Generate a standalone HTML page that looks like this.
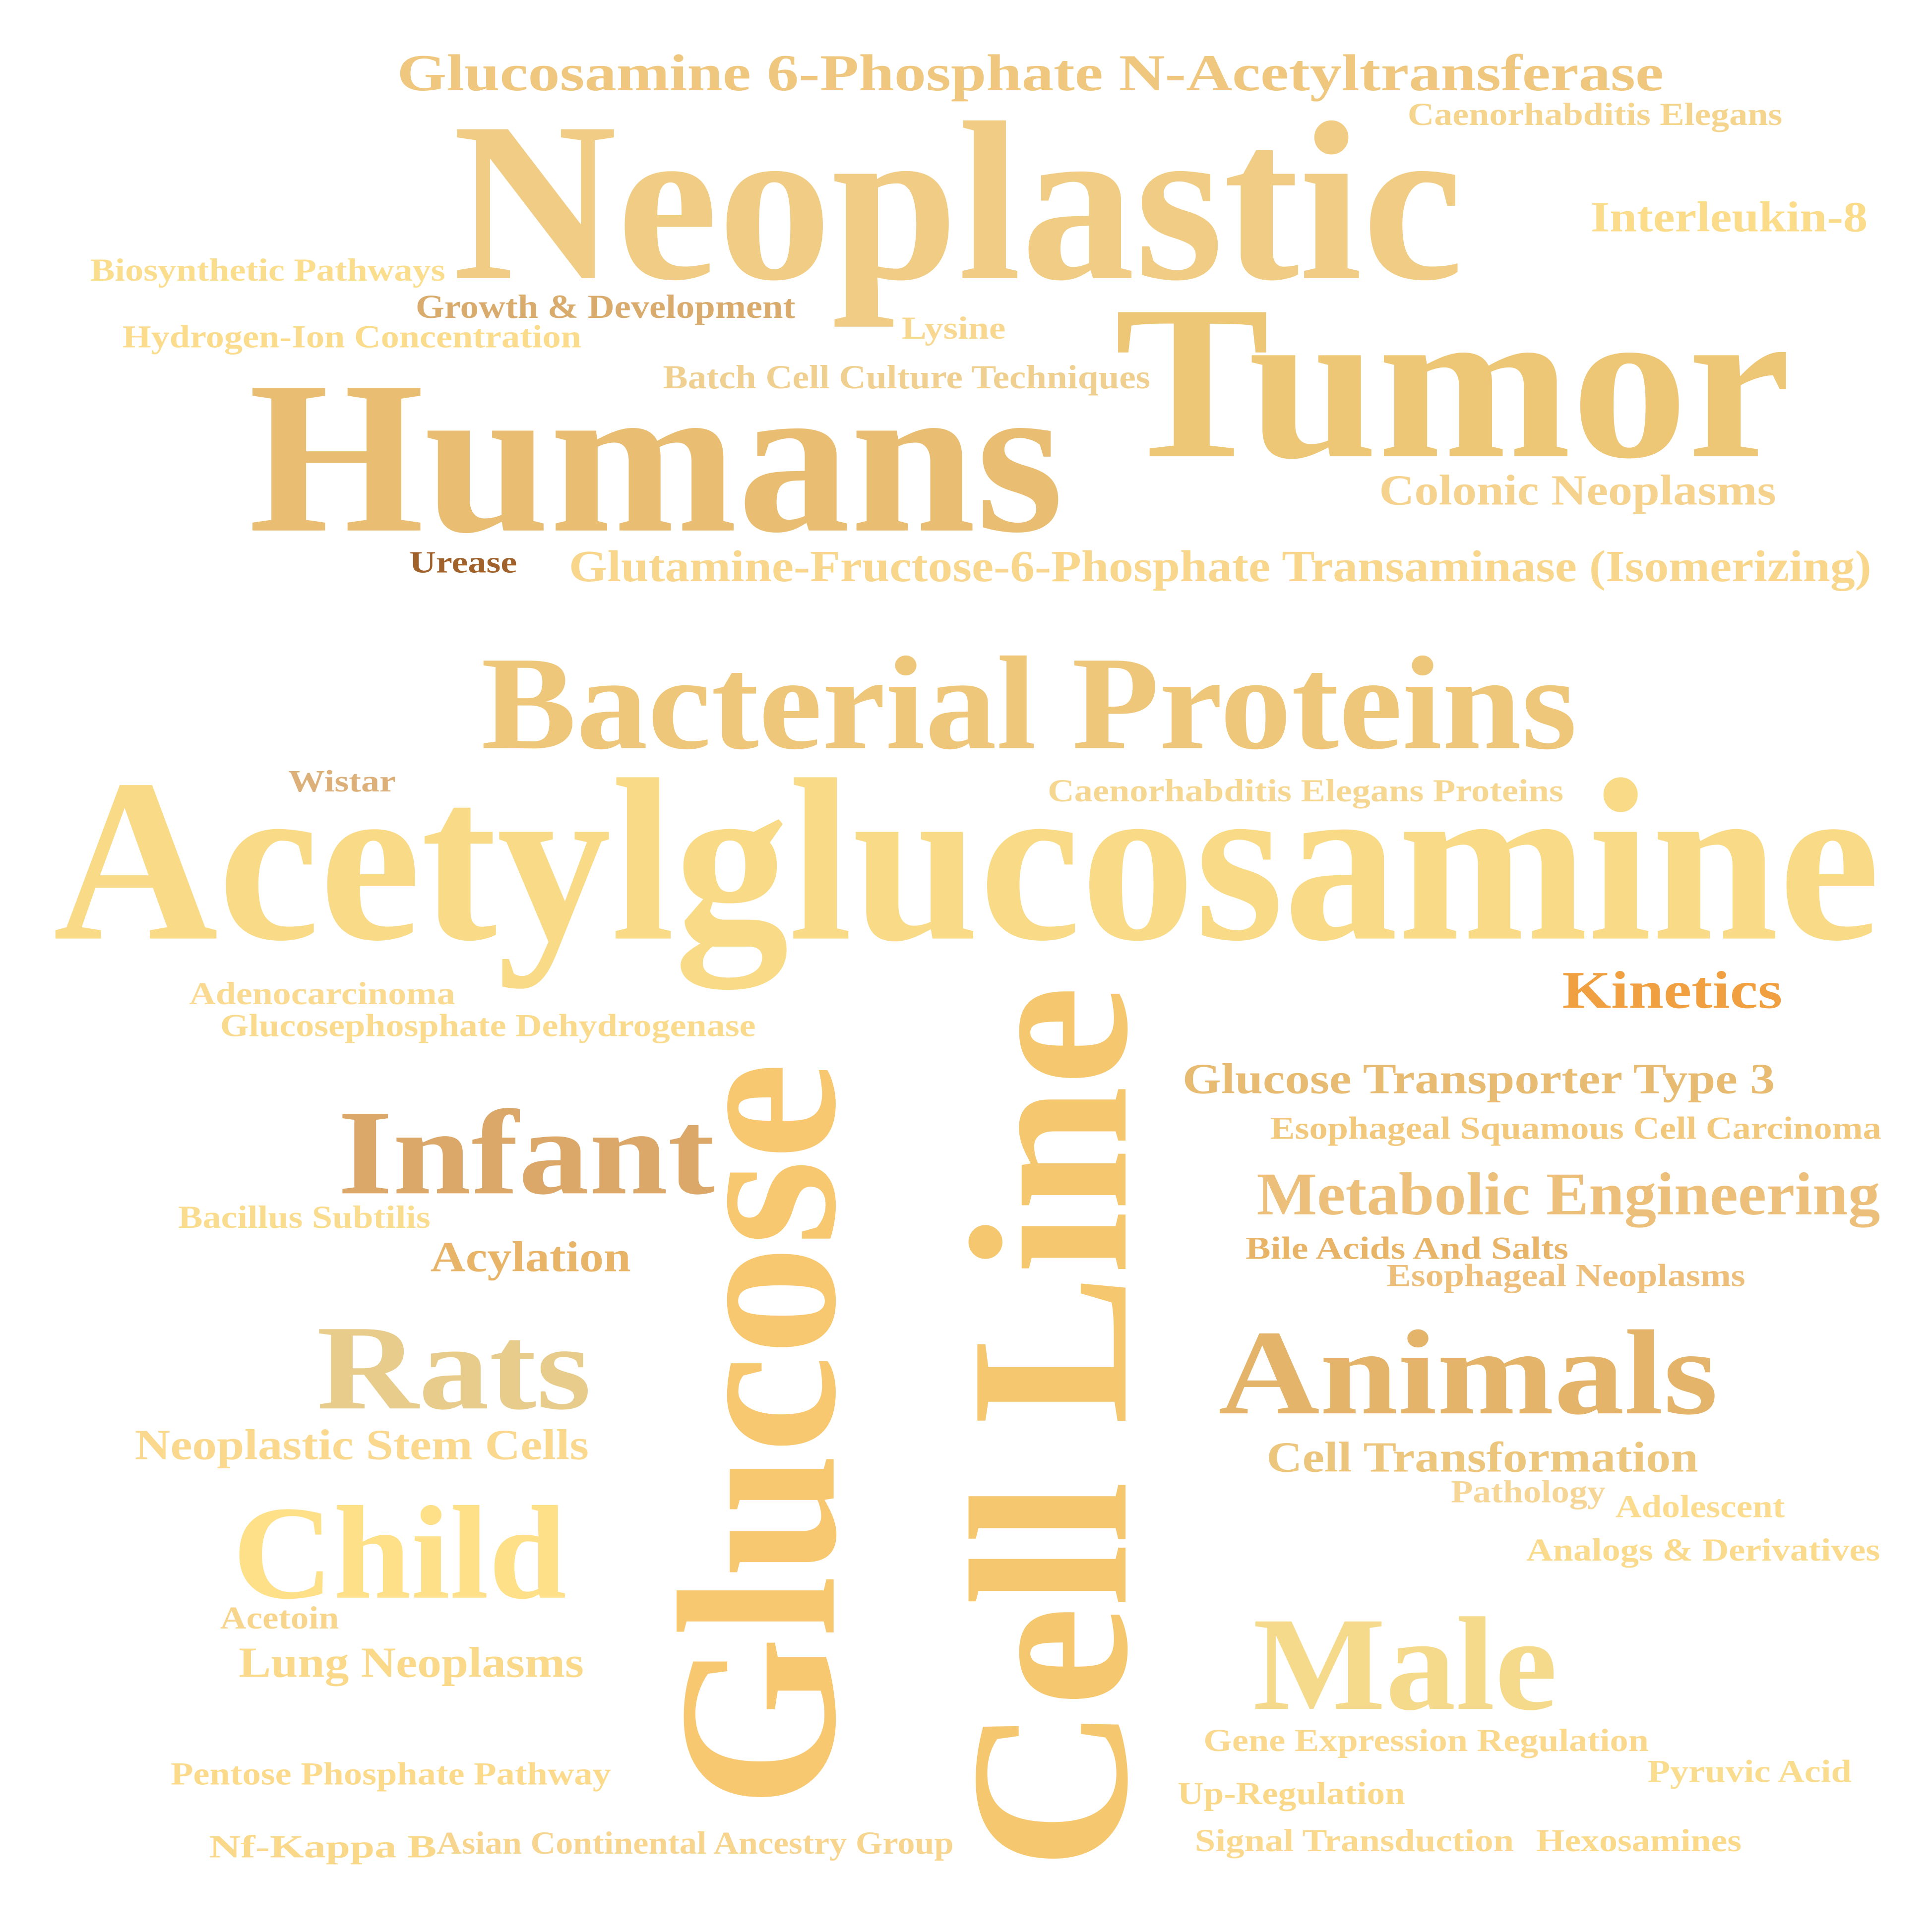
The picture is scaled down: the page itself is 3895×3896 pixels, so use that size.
<!DOCTYPE html>
<html><head><meta charset="utf-8"><style>
html,body{margin:0;padding:0;background:#fff;}
svg{display:block;}
text{font-family:"Liberation Serif",serif;font-weight:bold;}
</style></head><body>
<svg width="3895" height="3896" viewBox="0 0 1562 1562.4" xmlns="http://www.w3.org/2000/svg">
<rect x="-10" y="-10" width="1590" height="1590" fill="#fff"/>
<g id="words" transform="translate(-2,-3)"></g>
</svg>
<script>
const words = ["Glucosamine 6-Phosphate N-Acetyltransferase","Caenorhabditis Elegans","Neoplastic","Interleukin-8","Biosynthetic Pathways","Growth & Development","Lysine","Hydrogen-Ion Concentration","Batch Cell Culture Techniques","Tumor","Humans","Colonic Neoplasms","Urease","Glutamine-Fructose-6-Phosphate Transaminase (Isomerizing)","Bacterial Proteins","Wistar","Caenorhabditis Elegans Proteins","Acetylglucosamine","Adenocarcinoma","Glucosephosphate Dehydrogenase","Kinetics","Glucose Transporter Type 3","Esophageal Squamous Cell Carcinoma","Infant","Metabolic Engineering","Bacillus Subtilis","Acylation","Bile Acids And Salts","Esophageal Neoplasms","Rats","Animals","Neoplastic Stem Cells","Cell Transformation","Pathology","Adolescent","Analogs & Derivatives","Child","Acetoin","Lung Neoplasms","Male","Gene Expression Regulation","Pyruvic Acid","Pentose Phosphate Pathway","Up-Regulation","Nf-Kappa B","Asian Continental Ancestry Group","Signal Transduction","Hexosamines","Glucose","Cell Line"];
const weights = [42,26,184,35,26,27,26,26,27,178,176,35,25,36,108,25,26,188,26,26,43,35,26,98,49,26,35,26,26,98,98,35,35,26,26,26,108,26,35,108,26,26,26,26,26,26,26,26,183,183];
const colors = ["#EFC77E","#F5D58E","#F0CC84","#FADC8A","#FBDD8E","#D9AC6E","#F8D891","#FADC8C","#F0D090","#EDC676","#E9BE72","#F5D38E","#A0622A","#F8D68C","#EFC77A","#DDB07A","#F6D792","#F9DA86","#FADA90","#FADB8E","#F0A040","#E8BB72","#F2C87C","#DBA86A","#ECC07A","#FADC8E","#E8B468","#E8B468","#EDBF7A","#E8CC8C","#E4B46A","#FAD98E","#EDC67E","#F6D696","#FBDB8E","#FADA8C","#FEE089","#F8D58C","#FAD98A","#F5DA8C","#FAD98E","#FADC8E","#FBDA8C","#FAD88A","#FAD88A","#F8D58E","#FAD98E","#FBD98A","#F8C870","#F5C76E"];
// layout: [x-start, baseline, length, vertical]
const layout = [[323,76,1024,0],[1140,104,303,0],[368,228,817,0],[1288,190,224,0],[75,230,287,0],[338,260,307,0],[731,277,84,0],[101,284,371,0],[538,317,394,0],[903,372,547,0],[203,432,659,0],[1117,411,321,0],[333,466,87,0],[462,473,1053,0],[391,608,886,0],[235,643,87,0],[849,651,417,0],[45,762,1477,0],[155,815,215,0],[180,841,433,0],[1265,818,178,0],[958,887,479,0],[1029,924,494,0],[275,968,305,0],[1018,985,504,0],[146,996,204,0],[350,1031,162,0],[1009,1021,261,0],[1123,1043,290,0],[258,1142,222,0],[987,1146,404,0],[111,1183,367,0],[1026,1193,349,0],[1175,1218,125,0],[1308,1230,137,0],[1236,1265,286,0],[190,1295,270,0],[180,1320,96,0],[195,1359,279,0],[1015,1385,246,0],[975,1419,360,0],[1334,1444,165,0],[140,1446,356,0],[954,1462,184,0],[171,1505,184,0],[355,1502,418,0],[968,1500,258,0],[1244,1500,166,0],[1465,676,603,1],[1515,912,715,1]];
const g = document.getElementById('words');
const NS = "http://www.w3.org/2000/svg";
words.forEach((w, i) => {
  const t = document.createElementNS(NS, 'text');
  
  
  const L = layout[i];
  if (L[3]) {
    t.setAttribute('transform', 'translate(' + L[1] + ',' + L[0] + ') rotate(-90)');
  } else {
    t.setAttribute('x', L[0]);
    t.setAttribute('y', L[1]);
  }
  t.setAttribute('font-size', weights[i]);
  t.setAttribute('fill', colors[i]);
  t.setAttribute('textLength', L[2]);
  t.setAttribute('lengthAdjust', 'spacingAndGlyphs');
  t.textContent = w;
  g.appendChild(t);
});
</script>
</body></html>
